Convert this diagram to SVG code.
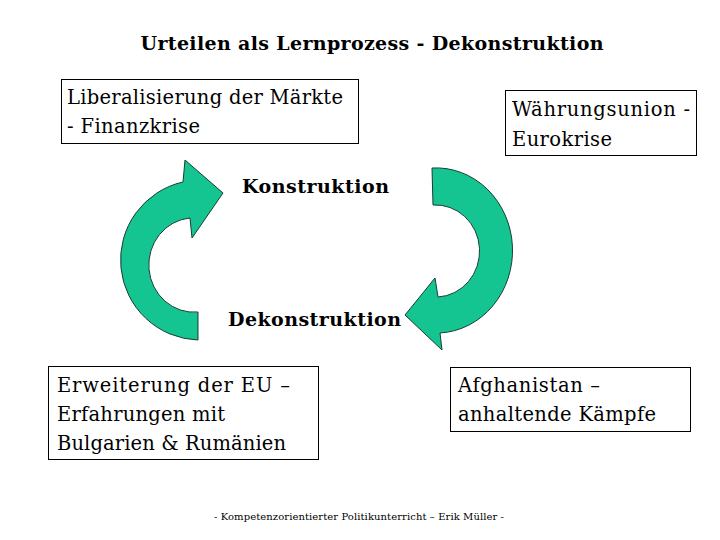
<svg xmlns="http://www.w3.org/2000/svg" width="720" height="540" viewBox="0 0 720 540">
<style>
text{font-family:"DejaVu Serif","Liberation Serif",serif;fill:#000}
.t{font-size:19px;font-weight:bold}
.b{font-size:19.5px}
.lbl{font-size:19px;font-weight:bold}
.f{font-size:10px}
.box{fill:#fff;stroke:#000;stroke-width:1}
.arr{fill:#14c491;stroke:#1a3d33;stroke-width:1}
</style>
<rect width="720" height="540" fill="#fff"/>
<text class="t" x="372" y="50" text-anchor="middle" textLength="463">Urteilen als Lernprozess - Dekonstruktion</text>
<g id="n1">
<rect class="box" x="61.500" y="79.500" width="297" height="64"/>
<text class="b" x="67" y="104" textLength="276">Liberalisierung der Märkte</text>
<text class="b" x="67" y="133" textLength="133">- Finanzkrise</text>
</g>
<g id="n2">
<rect class="box" x="505.500" y="90.500" width="191" height="65"/>
<text class="b" x="512" y="116" textLength="178">Währungsunion -</text>
<text class="b" x="512" y="146" textLength="100">Eurokrise</text>
</g>
<g id="n3">
<rect class="box" x="48.500" y="366.500" width="270" height="93"/>
<text class="b" x="57" y="392" textLength="233">Erweiterung der EU –</text>
<text class="b" x="57" y="421" textLength="168">Erfahrungen mit</text>
<text class="b" x="57" y="450" textLength="229">Bulgarien &amp; Rumänien</text>
</g>
<g id="n4">
<rect class="box" x="450.500" y="367.500" width="240" height="64"/>
<text class="b" x="458" y="392" textLength="142">Afghanistan –</text>
<text class="b" x="458" y="421" textLength="198">anhaltende Kämpfe</text>
</g>
<g id="connectors">
<path class="arr" d="M198 340 A80 80 0 0 1 183 182 L185 160 L223 193 L192 238 L190 218 A45 47 0 0 0 198 312 Z"/>
<path class="arr" d="M432 168 A76 82 0 0 1 440 333 L442 350 L405 315 L435 278 L438 297 A44 46 0 0 0 433 205 Z"/>
</g>
<text class="lbl" x="242" y="193" textLength="147">Konstruktion</text>
<text class="lbl" x="228" y="326" textLength="173">Dekonstruktion</text>
<text class="f" x="214" y="520" textLength="290">- Kompetenzorientierter Politikunterricht – Erik Müller -</text>
</svg>
